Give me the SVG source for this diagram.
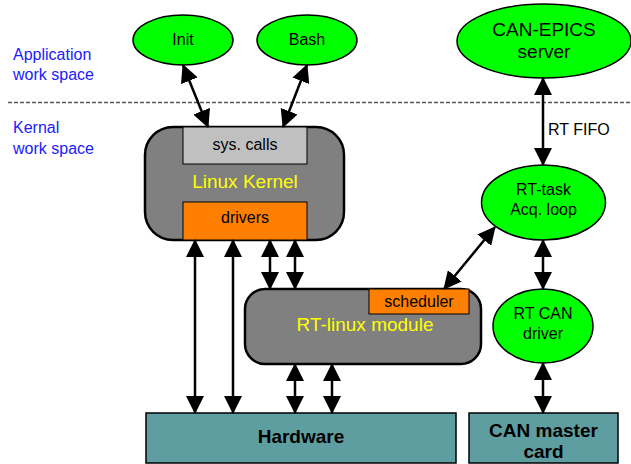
<svg xmlns="http://www.w3.org/2000/svg" width="631" height="464" viewBox="0 0 631 464">
<style>
text{font-family:"Liberation Sans",Arial,sans-serif;text-anchor:middle;fill:#000}
.ell{fill:#00ff00;stroke:#000;stroke-width:1.5}
.lbl{fill:#2020ff;text-anchor:start;font-size:16px}
.box{fill:#808080;stroke:#000;stroke-width:2.5}
.hw{fill:#5f9ea0;stroke:#000;stroke-width:1.5}
.yl{fill:#ffff00;font-size:19px}
.t16{font-size:16px}
.b19{font-size:19px;font-weight:bold}
.arr{stroke:#000;stroke-width:2.5;fill:none;marker-start:url(#ah);marker-end:url(#ah)}
</style>
<defs>
<marker id="ah" markerUnits="userSpaceOnUse" markerWidth="18" markerHeight="18" viewBox="0 0 18 18" refX="17" refY="9" orient="auto-start-reverse">
<path d="M0,0 L18,9 L0,18 z" fill="#000"/>
</marker>
</defs>
<line x1="8" y1="102.5" x2="631" y2="102.5" stroke="#555" stroke-width="1.3" stroke-dasharray="4,2"/>
<g id="labels">
<text class="lbl" x="13" y="60">Application</text>
<text class="lbl" x="13" y="80">work space</text>
<text class="lbl" x="13" y="133">Kernal</text>
<text class="lbl" x="13" y="154">work space</text>
</g>
<g id="init"><ellipse class="ell" cx="183" cy="40" rx="50" ry="25"/><text class="t16" x="183" y="45">Init</text></g>
<g id="bash"><ellipse class="ell" cx="307" cy="40" rx="50" ry="25"/><text class="t16" x="307" y="45">Bash</text></g>
<g id="canepics"><ellipse class="ell" cx="544" cy="41" rx="87" ry="37"/><text style="font-size:19px" x="544" y="36">CAN-EPICS</text><text style="font-size:19px" x="544" y="58">server</text></g>
<g id="kernel">
<rect class="box" x="145" y="127" width="199" height="113" rx="28"/>
<rect x="183" y="127" width="124" height="37" fill="#c0c0c0" stroke="#000" stroke-width="1"/>
<text class="t16" x="245" y="150">sys. calls</text>
<text class="yl" x="245" y="188">Linux Kernel</text>
<rect x="183" y="202" width="124" height="38" fill="#ff8000" stroke="#000" stroke-width="1"/>
<text class="t16" x="245" y="223">drivers</text>
</g>
<g id="rtlinux">
<rect class="box" x="245" y="289" width="236" height="75" rx="20"/>
<rect x="369" y="289" width="100" height="25" fill="#ff8000" stroke="#000" stroke-width="1"/>
<text class="t16" x="419" y="307">scheduler</text>
<text class="yl" x="365" y="331">RT-linux module</text>
</g>
<g id="rttask"><ellipse class="ell" cx="543.5" cy="202.5" rx="62" ry="37.5"/><text class="t16" x="543.5" y="195">RT-task</text><text class="t16" x="543.5" y="215">Acq. loop</text></g>
<g id="rtcan"><ellipse class="ell" cx="543" cy="326" rx="50" ry="37"/><text class="t16" x="543" y="319">RT CAN</text><text class="t16" x="543" y="339">driver</text></g>
<g id="hardware"><rect class="hw" x="146" y="413" width="310" height="50"/><text class="b19" x="301" y="443">Hardware</text></g>
<g id="canmaster"><rect class="hw" x="469" y="413" width="149" height="50"/><text class="b19" x="543.5" y="437">CAN master</text><text class="b19" x="543.5" y="458">card</text></g>
<g id="connectors">
<line class="arr" x1="183" y1="65" x2="208" y2="127"/>
<line class="arr" x1="307" y1="65" x2="283" y2="127"/>
<line class="arr" x1="543" y1="78" x2="543" y2="165"/>
<line class="arr" x1="195" y1="240" x2="195" y2="413"/>
<line class="arr" x1="233" y1="240" x2="233" y2="413"/>
<line class="arr" x1="270" y1="240" x2="270" y2="289"/>
<line class="arr" x1="295" y1="240" x2="295" y2="289"/>
<line class="arr" x1="295" y1="364" x2="295" y2="413"/>
<line class="arr" x1="332" y1="364" x2="332" y2="413"/>
<line class="arr" x1="543" y1="240" x2="543" y2="289"/>
<line class="arr" x1="543" y1="363" x2="543" y2="413"/>
<line class="arr" x1="444" y1="289" x2="495" y2="227"/>
</g>
<text class="t16" style="text-anchor:start" x="548" y="135">RT FIFO</text>
</svg>
